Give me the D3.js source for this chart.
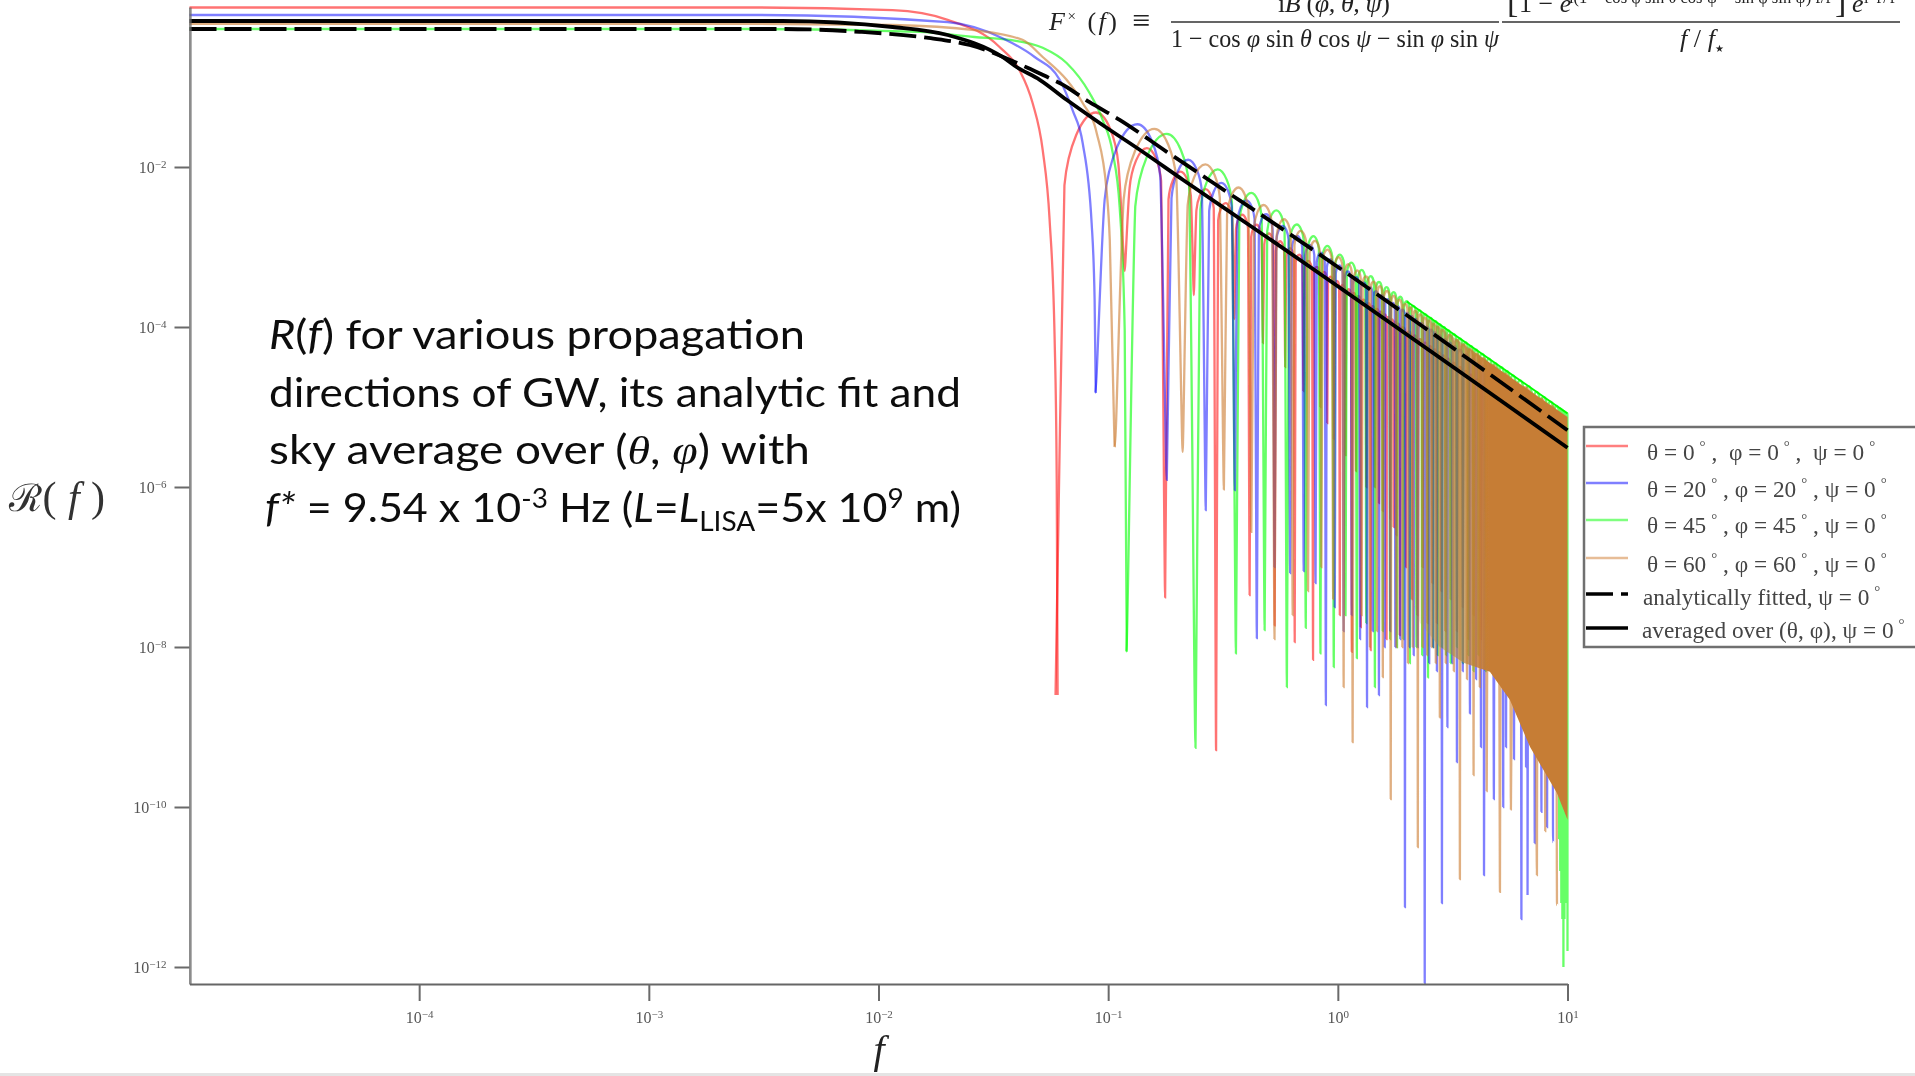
<!DOCTYPE html>
<html>
<head>
<meta charset="utf-8">
<style>
  html, body { margin: 0; padding: 0; background: #fff; }
  svg { display: block; }
</style>
<script src="https://cdnjs.cloudflare.com/ajax/libs/d3/7.8.5/d3.min.js"></script>
</head>
<body>
<svg id="chart" width="1915" height="1076"></svg>
<script>
// all curve values are read off the picture, [log10 f, log10 R] for the
// flat part and first hump, [f, log10 R at the null] for the spikes
const xTickExponents = [-4, -3, -2, -1, 0, 1];
const yTickExponents = [-2, -4, -6, -8, -10, -12];

const redHump = [[-5, -0.006], [-2.519, -0.006], [-1.939, -0.04], [-1.699, -0.16], [-1.473, -0.5], [-1.386, -0.79], [-1.329, -1.2], [-1.285, -1.79], [-1.255, -2.66], [-1.233, -4.16], [-1.224, -5.91], [-1.22, -8.6]];
const blueHump = [[-5, -0.1], [-2.519, -0.1], [-1.699, -0.19], [-1.46, -0.39], [-1.32, -0.625], [-1.211, -0.91], [-1.155, -1.29], [-1.111, -1.7], [-1.072, -2.7], [-1.059, -3.66], [-1.054, -4.825]];
const greenHump = [[-5, -0.275], [-2.519, -0.275], [-1.821, -0.31], [-1.582, -0.375], [-1.429, -0.41], [-1.285, -0.51], [-1.181, -0.7], [-1.081, -1.075], [-1.024, -1.41], [-0.98, -1.825], [-0.95, -2.5], [-0.928, -4.04], [-0.919, -8.06]];
const orangeHump = [[-5, -0.21], [-2.519, -0.21], [-1.939, -0.225], [-1.582, -0.29], [-1.373, -0.41], [-1.285, -0.625], [-1.181, -0.91], [-1.111, -1.2], [-1.05, -1.575], [-1.007, -2.29], [-0.993, -2.91], [-0.972, -5.5]];

const redEnvelope = [[-1.05, -1.325], [1, -5.44]];
const blueEnvelope = [[-0.893, -1.425], [1, -5.225]];
const greenEnvelope = [[-0.7625, -1.55], [1, -5.08]];
const orangeEnvelope = [[-0.81, -1.5], [1, -5.125]];
const greenTopEdge = [[0.3, -3.68], [1, -5.08]];

const redNulls = [[0.059, -8.6], [0.118, -3.3], [0.177, -7.38], [0.236, -3.6], [0.295, -9.29], [0.354, -3.9], [0.413, -7.35], [0.472, -4.2], [0.531, -7.73], [0.59, -4.5], [0.649, -7.94], [0.708, -4.8], [0.78, -8.16], [0.84, -5], [0.9, -5.2], [0.96, -5.4], [1.02, -7.6], [1.08, -5.6], [1.15, -8.06], [1.2, -5.8], [1.26, -7.75], [1.33, -6], [1.39, -8.04], [1.45, -6], [1.51, -6.2], [1.57, -6.3], [1.63, -7.9], [1.69, -6.4], [1.75, -6.5], [1.8, -6.6], [1.86, -7.85], [1.98, -7], [2.1, -7.4], [2.22, -7.6], [2.34, -7], [2.46, -7.7], [2.58, -7.2], [2.7, -7.7], [2.82, -7.3], [2.94, -7.8], [3.1, -7.4], [3.3, -7.8], [3.5, -7.5], [3.7, -7.9], [3.9, -7.6], [4.2, -7.9], [4.5, -7.7]];
const blueNulls = [[0.088, -4.825], [0.18, -5.91], [0.266, -6.29], [0.356, -6.04], [0.444, -7.89], [0.53, -7], [0.62, -7.075], [0.71, -7.05], [0.8, -7.2], [0.887, -8.725], [0.97, -7.5], [1.06, -7.8], [1.15, -7.6], [1.25, -7.9], [1.34, -8.75], [1.42, -7.8], [1.51, -8.6], [1.6, -8], [1.69, -7.8], [1.78, -8], [1.87, -7.9], [1.96, -11.25], [2.05, -8], [2.14, -8.1], [2.23, -8], [2.39, -12.2], [2.5, -8.2], [2.6, -8], [2.7, -8.3], [2.84, -11.2], [3, -9], [3.15, -8.2], [3.3, -9.44], [3.5, -8.3], [3.76, -8.83], [4, -8.4], [4.2, -9.25], [4.33, -10.85], [4.78, -9.9], [5.25, -10], [5.4, -9.25], [5.85, -9.4], [6.3, -11.4], [6.6, -9.5], [6.7, -11.1], [7.2, -10.45], [7.7, -10.06], [8.15, -10.25], [8.65, -10.44]];
const greenNulls = [[0.12, -8.06], [0.24, -9.26], [0.36, -8.08], [0.48, -7.79], [0.6, -8.5], [0.725, -7.76], [0.84, -8.08], [0.96, -8.25], [1.08, -7.6], [1.21, -8.14], [1.33, -7.7], [1.45, -8.5], [1.57, -7.8], [1.69, -7.9], [1.81, -8], [1.93, -7.9], [2.06, -8.2], [2.2, -8], [2.33, -8.1], [2.47, -8.38], [2.6, -8], [2.72, -8.1], [2.84, -8], [2.96, -8.1], [3.1, -8.2], [3.3, -8], [3.5, -8.2], [3.7, -8.1], [3.9, -8.3], [4.1, -8.1], [4.4, -8.3], [4.7, -8.2], [5, -8.3], [5.3, -8.2], [5.6, -8.3], [5.97, -8.375], [6.46, -8.5], [7.07, -8.725], [7.6, -8.95], [8.15, -9.06], [8.73, -9.41], [9.2, -10.4], [9.3, -10.8], [9.4, -11.2], [9.5, -11.4], [9.6, -12], [9.7, -11.4], [9.8, -11], [9.9, -11.2], [10, -11.8]];
const orangeNulls = [[0.107, -5.5], [0.211, -5.56], [0.319, -6.03], [0.42, -6.56], [0.53, -7.9], [0.636, -7.6], [0.742, -7.3], [0.848, -7], [0.954, -7.4], [1.06, -8.5], [1.16, -9.19], [1.27, -7.6], [1.38, -8], [1.48, -7.8], [1.57, -8.375], [1.7, -9.9], [1.8, -8], [1.91, -8], [2.02, -8.2], [2.12, -8], [2.23, -10.5], [2.34, -8], [2.45, -8.1], [2.56, -8], [2.67, -8.2], [2.78, -8.88], [2.95, -8.2], [3.2, -8.3], [3.4, -10.9], [3.65, -8.4], [3.9, -9.6], [4.15, -8.5], [4.45, -9.8], [5.08, -11.06], [5.67, -10.03], [7.36, -10.85], [8, -10.3], [9, -11.225]];

// where the lobes get too dense to tell apart, the reference is a flat brown
const solidBand = [[0.3, -3.72], [1, -5.125], [1, -10.16], [0.954, -9.825], [0.837, -9.25], [0.749, -8.66], [0.662, -8.31], [0.55, -8.2], [0.444, -8], [0.358, -7.7], [0.3, -7.2]];

const averaged = [[-5, -0.175], [-2.418, -0.175], [-1.939, -0.25], [-1.699, -0.35], [-1.46, -0.625], [-1.399, -0.75], [-1.298, -0.91], [-1.181, -1.16], [-1.037, -1.45], [-0.85, -1.81], [-0.675, -2.16], [-0.353, -2.79], [1, -5.51]];
const fitted = [[-5, -0.275], [-2.418, -0.275], [-2.083, -0.31], [-1.773, -0.39], [-1.603, -0.475], [-1.351, -0.76], [-1.255, -0.89], [-1.211, -0.95], [-1.081, -1.19], [-0.95, -1.41], [-0.745, -1.81], [-0.484, -2.31], [-0.353, -2.56], [1, -5.29]];

const legendLabels = ['θ = 0° ,  φ = 0° ,  ψ = 0°', 'θ = 20° , φ = 20° , ψ = 0°', 'θ = 45° , φ = 45° , ψ = 0°', 'θ = 60° , φ = 60° , ψ = 0°', 'analytically fitted, ψ = 0°', 'averaged over (θ, φ), ψ = 0°'];
const legendColors = ['#ff0000', '#0000ff', '#00ff00', '#d07c30', '#000', '#000'];

const colors = { red: '#ff0000', blue: '#0000ff', green: '#00ff00', orange: '#cc7a2e', solid: '#c67d34', mixed: '#a89048', axis: '#666', tick: '#6a6a6a' };

const svg = d3.select('#chart');
const defs = svg.append('defs');
defs.append('filter').attr('id', 'soft').append('feGaussianBlur').attr('stdDeviation', 0.6);
defs.append('filter').attr('id', 'softer').append('feGaussianBlur').attr('stdDeviation', 0.35);

const x = d3.scaleLog().domain([1e-5, 10]).range([189.5, 1567.5]);
const y = d3.scaleLog().domain([1, Math.pow(10, -12.2125)]).range([7, 984]);
const exp10 = e => Math.pow(10, e);

// stripes fade into the flat brown from left to right
const bandFade = defs.append('linearGradient')
    .attr('id', 'bandFade')
    .attr('gradientUnits', 'userSpaceOnUse')
    .attr('x1', x(exp10(0.31))).attr('x2', x(exp10(0.66)))
    .attr('y1', 0).attr('y2', 0);
bandFade.append('stop').attr('offset', 0).attr('stop-color', colors.mixed).attr('stop-opacity', 0);
bandFade.append('stop').attr('offset', 0.45).attr('stop-color', colors.mixed).attr('stop-opacity', 0.5);
bandFade.append('stop').attr('offset', 0.85).attr('stop-color', colors.solid).attr('stop-opacity', 0.85);
bandFade.append('stop').attr('offset', 1).attr('stop-color', colors.solid).attr('stop-opacity', 1);

// log-log pairs straight through the scales
const logLine = d3.line().x(d => x(exp10(d[0]))).y(d => y(exp10(d[1])));

// null -> peak -> null ... : narrow spike at the null, round top at the peak
function lobeCurve(context) {
    let px, py, i;
    return {
        lineStart() { i = 0; },
        lineEnd() {},
        point(cx, cy) {
            if (i === 0) {
                context.moveTo(cx, cy);
            } else if (i % 2 === 1) {
                const dx = cx - px;
                const sy = Math.min(py, cy + 1.8 * dx);
                const sx = px + 0.22 * dx;
                context.bezierCurveTo(px + 0.03 * dx, py, px + 0.14 * dx, sy + (py - sy) * 0.2, sx, sy);
                context.bezierCurveTo(sx + 0.08 * dx, sy - (sy - cy) * 0.5, cx - 0.35 * dx, cy, cx, cy);
            } else {
                const dx = cx - px;
                const sy = Math.min(cy, py + 1.8 * dx);
                const sx = cx - 0.22 * dx;
                context.bezierCurveTo(px + 0.35 * dx, py, sx - 0.08 * dx, sy - (sy - py) * 0.5, sx, sy);
                context.bezierCurveTo(cx - 0.14 * dx, sy + (cy - sy) * 0.2, cx - 0.03 * dx, cy, cx, cy);
            }
            px = cx;
            py = cy;
            i++;
        }
    };
}

const lobeLine = d3.line().x(d => x(d[0])).y(d => y(exp10(d[1]))).curve(lobeCurve);

function lobePoints(nulls, envelope) {
    const env = d3.scaleLinear().domain(envelope.map(d => d[0])).range(envelope.map(d => d[1]));
    const points = [];
    nulls.forEach((n, i) => {
        points.push(n);
        if (i < nulls.length - 1) {
            const mid = (n[0] + nulls[i + 1][0]) / 2;
            points.push([mid, env(Math.log10(mid))]);
        }
    });
    return points;
}

const series = [
    { hump: redHump, nulls: redNulls, envelope: redEnvelope, color: colors.red, opacity: 0.55 },
    { hump: greenHump, nulls: greenNulls, envelope: greenEnvelope, color: colors.green, opacity: 0.6 },
    { hump: blueHump, nulls: blueNulls, envelope: blueEnvelope, color: colors.blue, opacity: 0.5 },
    { hump: orangeHump, nulls: orangeNulls, envelope: orangeEnvelope, color: colors.orange, opacity: 0.6 }
];

const plot = svg.append('g').attr('filter', 'url(#soft)');

series.forEach(s => {
    plot.append('path')
        .attr('d', logLine.curve(d3.curveMonotoneX)(s.hump))
        .attr('fill', 'none')
        .attr('stroke', s.color)
        .attr('stroke-opacity', s.opacity)
        .attr('stroke-width', 2.3);
    plot.append('path')
        .attr('d', lobeLine(lobePoints(s.nulls, s.envelope)))
        .attr('fill', 'none')
        .attr('stroke', s.color)
        .attr('stroke-opacity', s.opacity)
        .attr('stroke-width', 2.3);
});

logLine.curve(d3.curveLinear);

plot.append('path')
    .attr('d', logLine(solidBand) + 'Z')
    .attr('fill', 'url(#bandFade)');

// green sits just above the brown block all the way to the right edge
plot.append('path')
    .attr('d', logLine(greenTopEdge))
    .attr('fill', 'none')
    .attr('stroke', colors.green)
    .attr('stroke-width', 1.8);

plot.append('path')
    .attr('d', logLine.curve(d3.curveMonotoneX)(fitted))
    .attr('fill', 'none')
    .attr('stroke', '#000')
    .attr('stroke-width', 3.8)
    .attr('stroke-dasharray', '27 8');

plot.append('path')
    .attr('d', logLine(averaged))
    .attr('fill', 'none')
    .attr('stroke', '#000')
    .attr('stroke-width', 3.8);

// axes
function superscript(selection, base, sup) {
    selection.text(null);
    selection.append('tspan').text(base);
    selection.append('tspan').attr('dy', -5).attr('font-size', 11).text(sup);
}

const xAxis = svg.append('g')
    .attr('filter', 'url(#soft)')
    .attr('transform', `translate(0,${y.range()[1]})`)
    .call(d3.axisBottom(x).tickValues(xTickExponents.map(exp10)).tickSizeInner(17).tickSizeOuter(0).tickPadding(11));
const yAxis = svg.append('g')
    .attr('filter', 'url(#soft)')
    .attr('transform', `translate(${x.range()[0]},0)`)
    .call(d3.axisLeft(y).tickValues(yTickExponents.map(exp10)).tickSizeInner(15).tickSizeOuter(0).tickPadding(8));

[[xAxis, xTickExponents], [yAxis, yTickExponents]].forEach(([axis, exps]) => {
    axis.select('.domain').attr('stroke', colors.axis).attr('stroke-width', 2);
    axis.selectAll('.tick line').attr('stroke', colors.tick).attr('stroke-width', 2);
    axis.selectAll('.tick text')
        .attr('font-family', '"Liberation Serif", serif')
        .attr('font-size', 16)
        .attr('fill', '#555')
        .each(function (d, i) {
            superscript(d3.select(this), '10', exps[i] < 0 ? '−' + Math.abs(exps[i]) : String(exps[i]));
        });
});

// axis titles
svg.append('text')
    .attr('x', 9)
    .attr('y', 511)
    .attr('font-family', '"DejaVu Serif", serif')
    .attr('font-size', 38)
    .attr('fill', '#333')
    .attr('filter', 'url(#softer)')
    .attr('xml:space', 'preserve')
    .html('ℛ<tspan font-size="42" font-family="Liberation Serif">( <tspan font-style="italic">f</tspan> )</tspan>')
    .attr('textLength', 96);

svg.append('text')
    .attr('x', 879)
    .attr('y', 1063)
    .attr('text-anchor', 'middle')
    .attr('font-family', '"Liberation Serif", serif')
    .attr('font-style', 'italic')
    .attr('font-size', 40)
    .attr('fill', '#222')
    .attr('filter', 'url(#softer)')
    .text('f');

// bottom edge of the slide
svg.append('rect').attr('x', 0).attr('y', 1073).attr('width', 1915).attr('height', 3).attr('fill', '#e4e4e4');

// annotation
const note = svg.append('g')
    .attr('font-family', 'Lato, sans-serif')
    .attr('font-size', 40)
    .attr('fill', '#111')
    .attr('filter', 'url(#softer)');

note.append('text').attr('x', 269).attr('y', 349)
    .attr('textLength', 536).attr('lengthAdjust', 'spacingAndGlyphs')
    .html('<tspan font-style="italic">R</tspan>(<tspan font-style="italic">f</tspan>) for various propagation');
note.append('text').attr('x', 269).attr('y', 407)
    .attr('textLength', 692).attr('lengthAdjust', 'spacingAndGlyphs')
    .text('directions of GW, its analytic fit and');
note.append('text').attr('x', 269).attr('y', 464)
    .attr('textLength', 541).attr('lengthAdjust', 'spacingAndGlyphs')
    .html('sky average over (<tspan font-style="italic" font-family="Liberation Serif">θ</tspan>, <tspan font-style="italic" font-family="Liberation Serif">φ</tspan>) with');
note.append('text').attr('x', 265).attr('y', 522)
    .attr('textLength', 696).attr('lengthAdjust', 'spacingAndGlyphs')
    .html('<tspan font-style="italic">f*</tspan> = 9.54 x 10<tspan dy="-14" font-size="26">-3</tspan><tspan dy="14"> Hz (</tspan><tspan font-style="italic">L</tspan>=<tspan font-style="italic">L</tspan><tspan dy="9" font-size="26">LISA</tspan><tspan dy="-9">=5x 10</tspan><tspan dy="-14" font-size="26">9</tspan><tspan dy="14"> m)</tspan>');

// formula along the top, cut by the page edge
const formula = svg.append('g')
    .attr('font-family', '"Liberation Serif", serif')
    .attr('font-size', 26)
    .attr('fill', '#222')
    .attr('filter', 'url(#softer)');

function formulaText(px, py, content, opts) {
    const t = formula.append('text').attr('x', px).attr('y', py).html(content);
    Object.entries(opts || {}).forEach(([k, v]) => t.attr(k, v));
    return t;
}

const smallStar = '<tspan dy="5" font-size="10" font-family="DejaVu Sans">★</tspan>';

formulaText(1049, 30, '<tspan font-style="italic">F</tspan><tspan dy="-9" font-size="15">×</tspan><tspan dy="9"> (<tspan font-style="italic">f</tspan>)</tspan>', { textLength: 68 });
formulaText(1132, 31, '≡', { 'font-size': 32 });
formulaText(1278, 12, 'i<tspan font-style="italic">B</tspan> (<tspan font-style="italic">φ, θ, ψ</tspan>)', { textLength: 112 });
formulaText(1171, 47, '1 − cos <tspan font-style="italic">φ</tspan> sin <tspan font-style="italic">θ</tspan> cos <tspan font-style="italic">ψ</tspan> − sin <tspan font-style="italic">φ</tspan> sin <tspan font-style="italic">ψ</tspan>', { textLength: 328, lengthAdjust: 'spacingAndGlyphs' });
formulaText(1507, 12, '[', { 'font-size': 34 });
formulaText(1519, 12, '1 − <tspan font-style="italic">e</tspan>');
formulaText(1569, 3, 'i(1 − cos φ sin θ cos ψ − sin φ sin ψ) f/f', { 'font-size': 16, textLength: 262, lengthAdjust: 'spacingAndGlyphs' });
formulaText(1835, 12, ']', { 'font-size': 34 });
formulaText(1852, 12, '<tspan font-style="italic">e</tspan>');
formulaText(1864, 3, 'i f/f', { 'font-size': 16, textLength: 31 });
formulaText(1680, 47, '<tspan font-style="italic">f</tspan> / <tspan font-style="italic">f</tspan>' + smallStar, { textLength: 44 });

formula.selectAll('line').data([[1171, 1499], [1502, 1900]]).enter().append('line')
    .attr('x1', d => d[0]).attr('x2', d => d[1])
    .attr('y1', 22).attr('y2', 22)
    .attr('stroke', '#333')
    .attr('stroke-width', 1.6);

// legend
const legend = svg.append('g').attr('filter', 'url(#soft)');

legend.append('rect')
    .attr('x', 1584).attr('y', 427)
    .attr('width', 340).attr('height', 220)
    .attr('fill', '#fff')
    .attr('stroke', '#6f6f6f')
    .attr('stroke-width', 2.5);

const legendLineY = d3.scaleOrdinal().domain(d3.range(6)).range([446, 483, 520, 558, 594, 628]);
const legendTextY = d3.scaleOrdinal().domain(d3.range(6)).range([460, 497, 533, 572, 605, 638]);
const legendTextX = d3.scaleOrdinal().domain(d3.range(6)).range([1647, 1647, 1647, 1647, 1643, 1642]);

legendLabels.forEach((label, i) => {
    const isBlack = i > 3;
    legend.append('line')
        .attr('x1', 1586).attr('x2', 1628)
        .attr('y1', legendLineY(i)).attr('y2', legendLineY(i))
        .attr('stroke', legendColors[i])
        .attr('stroke-opacity', isBlack ? 1 : 0.5)
        .attr('stroke-width', isBlack ? 3.6 : 2.4)
        .attr('stroke-dasharray', i === 4 ? '27 8' : null);

    const text = legend.append('text')
        .attr('x', legendTextX(i))
        .attr('y', legendTextY(i))
        .attr('font-family', '"Liberation Serif", serif')
        .attr('font-size', 23.3)
        .attr('fill', '#444')
        .attr('xml:space', 'preserve');
    // degree signs sit high and far off the digit, as in the reference
    label.split('°').forEach((part, j, parts) => {
        text.append('tspan').attr('dy', j > 0 ? 9 : 0).text(part);
        if (j < parts.length - 1) {
            text.append('tspan').attr('dy', -9).attr('dx', 5).attr('font-size', 15).text('°');
        }
    });
});
</script>
</body>
</html>
